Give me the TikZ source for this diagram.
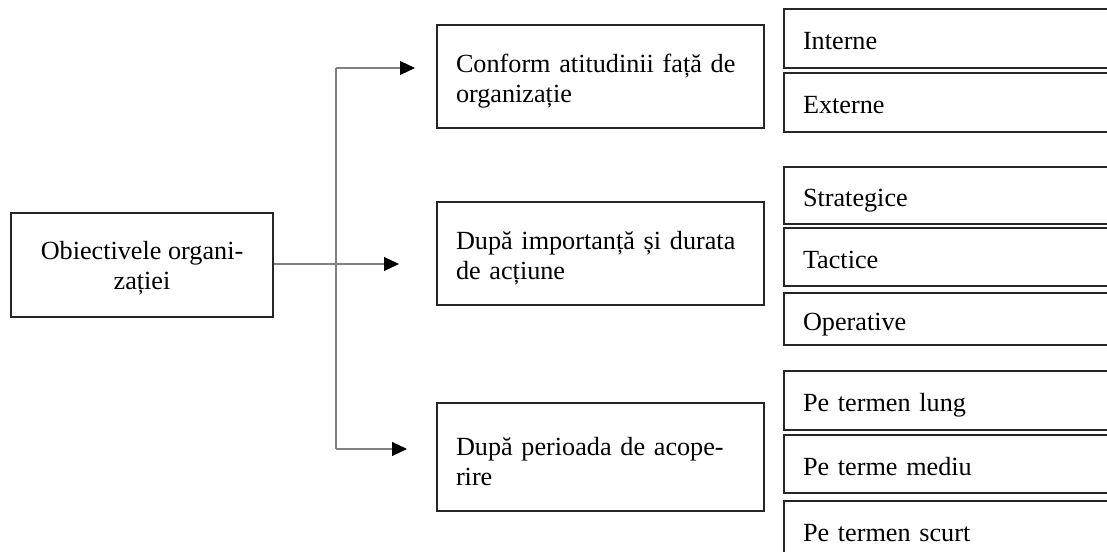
\documentclass[tikz,border=0pt]{standalone}
\usepackage{fontspec}
\setmainfont{Liberation Serif}
\usetikzlibrary{arrows.meta}
\begin{document}
\begin{tikzpicture}[x=1pt,y=-1pt,
  box/.style={draw=black!85,line width=1.2pt,rectangle,inner sep=0pt,font=\fontsize{26.2}{29.5}\selectfont},
  catbox/.style={box,minimum width=327pt,text width=289pt,align=left},
  leafbox/.style={box,minimum width=346pt,text width=308pt,align=left,text height=22pt,text depth=0pt},
  conn/.style={draw=black!50,line width=1.1pt},
  arr/.style={conn,-{Triangle[length=15pt,width=14pt,color=black]}}]
\useasboundingbox (0,0) rectangle (1107,551);
\clip (0,0) rectangle (1107,551);
% root
\node[box,minimum width=262pt,minimum height=104pt,align=center] (main) at (142,265) {\rule{0pt}{25pt}Obiectivele organi-\\zației};
% categories
\node[catbox,minimum height=103pt] (c1) at (600.5,76.5) {\rule{0pt}{28pt}Conform atitudinii față de\\organizație};
\node[catbox,minimum height=103pt] (c2) at (600.5,253.5) {\rule{0pt}{28pt}După importanță și durata\\de acțiune};
\node[catbox,minimum height=108pt] (c3) at (600.5,457) {\rule{0pt}{27pt}După perioada de acope-\\rire};
% leaves (right side runs past the page edge)
\node[leafbox,minimum height=59pt] (l1) at (957,38.5) {Interne};
\node[leafbox,minimum height=59pt] (l2) at (957,102.5) {Externe};
\node[leafbox,minimum height=57pt] (l3) at (957,195.5) {Strategice};
\node[leafbox,minimum height=58pt] (l4) at (957,257) {Tactice};
\node[leafbox,minimum height=52pt] (l5) at (957,319) {Operative};
\node[leafbox,minimum height=59pt] (l6) at (957,400.5) {Pe termen lung};
\node[leafbox,minimum height=58pt] (l7) at (957,464) {Pe terme mediu};
\node[leafbox,minimum height=59pt] (l8) at (957,530.5) {Pe termen scurt};
% connectors
\coordinate (j1) at (336,68);
\coordinate (j2) at (336,264);
\coordinate (j3) at (336,449);
\coordinate (t1) at (415,68);
\coordinate (t2) at (399,264);
\coordinate (t3) at (407,449);
\draw[conn] (main.east |- j2) -- (j2);
\draw[conn] (j1) -- (j3);
\draw[arr] (j1) -- (t1);
\draw[arr] (j2) -- (t2);
\draw[arr] (j3) -- (t3);
\end{tikzpicture}
\end{document}
